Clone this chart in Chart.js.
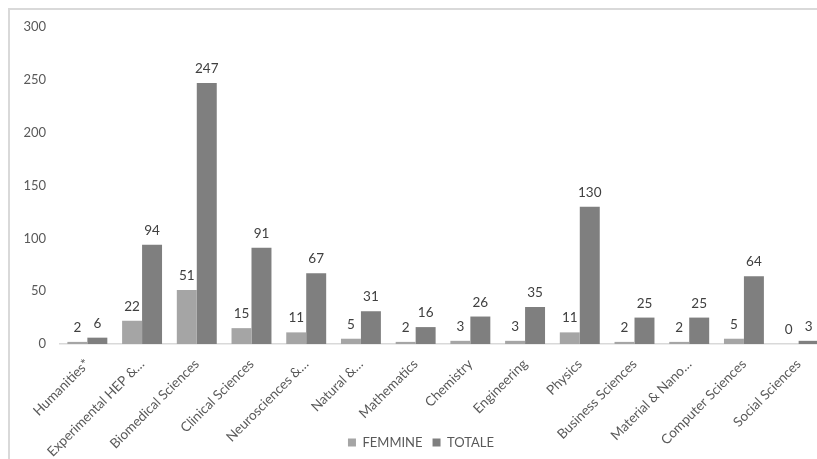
<!DOCTYPE html>
<html>
<head>
<meta charset="utf-8">
<script src="https://cdn.jsdelivr.net/npm/chart.js@4.4.1/dist/chart.umd.min.js"></script>
<style>
  html, body { margin: 0; padding: 0; background: #fff; overflow: hidden; }
  #wrap { position: relative; width: 817px; height: 459px; overflow: hidden; }
  #frame {
    position: absolute; left: 8px; top: 8px; width: 900px; height: 500px;
    border-left: 2px solid #d9d9d9; border-top: 2px solid #d9d9d9;
  }
  #box { position: absolute; left: 0; top: 0; width: 836px; height: 459px; }
</style>
</head>
<body>
<div id="wrap">
  <div id="frame"></div>
  <div id="box"><canvas id="chart" width="836" height="459"></canvas></div>
</div>
<script>
// Categories and counts
const areas = [
  'Humanities*', 'Experimental HEP &\u2026', 'Biomedical Sciences', 'Clinical Sciences',
  'Neurosciences &\u2026', 'Natural &\u2026', 'Mathematics', 'Chemistry', 'Engineering',
  'Physics', 'Business Sciences', 'Material & Nano\u2026', 'Computer Sciences', 'Social Sciences'
];
const femmine = [2, 22, 51, 15, 11, 5, 2, 3, 3, 11, 2, 2, 5, 0];
const totale = [6, 94, 247, 91, 67, 31, 16, 26, 35, 130, 25, 25, 64, 3];
const yTicks = [0, 50, 100, 150, 200, 250, 300];

const FONT = 'Lato, "Liberation Sans", sans-serif';

// value labels above each bar
const barValues = {
  id: 'barValues',
  afterDatasetsDraw(chart) {
    const ctx = chart.ctx;
    ctx.save();
    ctx.font = '13.5px ' + FONT;
    ctx.fillStyle = '#404040';
    ctx.textAlign = 'center';
    ctx.textBaseline = 'alphabetic';
    chart.data.datasets.forEach((ds, i) => {
      chart.getDatasetMeta(i).data.forEach((bar, j) => {
        ctx.fillText(String(ds.data[j]), bar.x, bar.y - 10);
      });
    });
    ctx.restore();
  }
};

new Chart(document.getElementById('chart'), {
  type: 'bar',
  data: {
    labels: areas,
    datasets: [
      { label: 'FEMMINE', data: femmine, backgroundColor: '#a5a5a5' },
      { label: 'TOTALE', data: totale, backgroundColor: '#7f7f7f' }
    ]
  },
  options: {
    responsive: false,
    animation: false,
    devicePixelRatio: 1,
    layout: { padding: { top: 27, right: 10, bottom: 0, left: 16 } },
    datasets: { bar: { categoryPercentage: 0.73, barPercentage: 1 } },
    plugins: {
      legend: {
        position: 'bottom',
        labels: {
          boxWidth: 8, boxHeight: 8, padding: 10,
          color: '#595959', font: { family: FONT, size: 13 }
        }
      },
      tooltip: { enabled: false }
    },
    scales: {
      x: {
        grid: { display: false },
        border: { color: '#d9d9d9', width: 1.5 },
        ticks: {
          color: '#595959', font: { family: FONT, size: 13.5 },
          maxRotation: 45, minRotation: 45, autoSkip: false, padding: 4
        },
        afterFit(scale) {
          scale.height = 82;
          // let the slanted names run below the axis box, over the legend row
          scale._computeLabelArea = () => undefined;
        }
      },
      y: {
        min: 0, max: 300,
        grid: { display: false },
        border: { display: false },
        afterBuildTicks(scale) { scale.ticks = yTicks.map(v => ({ value: v })); },
        ticks: { color: '#595959', font: { family: FONT, size: 13 }, padding: 6 },
        afterFit(scale) { scale.width = 44; }
      }
    }
  },
  plugins: [barValues]
});
</script>
</body>
</html>
